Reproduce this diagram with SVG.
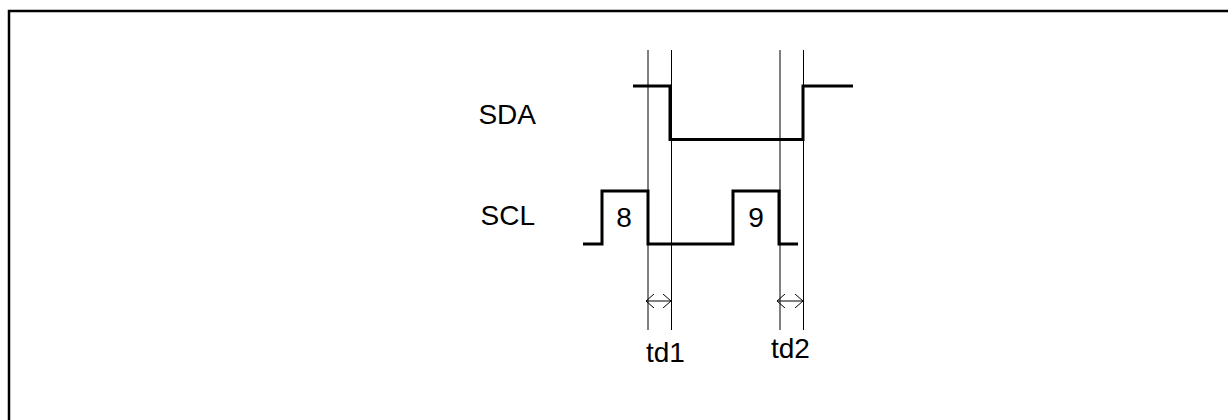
<svg xmlns="http://www.w3.org/2000/svg" width="1228" height="420" viewBox="0 0 1228 420">
<style>
.frame{fill:none;stroke:#000;stroke-width:2.5}
.sig{fill:none;stroke:#000;stroke-width:3;stroke-linejoin:miter}
.guide{fill:none;stroke:#000;stroke-width:1}
.arr{fill:none;stroke:#000;stroke-width:1}
text{font-family:"Liberation Sans",Arial,sans-serif;font-size:28px;fill:#000}
.r{text-anchor:end}
.m{text-anchor:middle}
</style>
<defs>
<marker id="oa" viewBox="0 0 10 14" refX="9" refY="7" markerWidth="10" markerHeight="14" markerUnits="userSpaceOnUse" orient="auto-start-reverse">
<path d="M1,0 L9,7 L1,14" fill="none" stroke="#000" stroke-width="1"/>
</marker>
</defs>
<rect width="1228" height="420" fill="#fff"/>
<path class="frame" d="M9,420 L9,11 L1228,11"/>
<g id="guides">
<line class="guide" x1="648" y1="50" x2="648" y2="330"/>
<line class="guide" x1="671.5" y1="50" x2="671.5" y2="330"/>
<line class="guide" x1="780" y1="50" x2="780" y2="330"/>
<line class="guide" x1="803.5" y1="50" x2="803.5" y2="330"/>
</g>
<g id="sda">
<path class="sig" d="M633,86 L670,86 L670,139.5 L803,139.5 L803,86 L853,86"/>
<text class="r" x="536" y="124">SDA</text>
</g>
<g id="scl">
<path class="sig" d="M583,244 L602,244 L602,191 L648,191 L648,244 L733,244 L733,191 L779,191 L779,244 L798,244"/>
<text class="r" x="535" y="225">SCL</text>
<text class="m" x="624" y="227">8</text>
<text class="m" x="756" y="227">9</text>
</g>
<g id="connectors">
<line class="arr" x1="646" y1="301" x2="671" y2="301" marker-start="url(#oa)" marker-end="url(#oa)"/>
<line class="arr" x1="777" y1="301" x2="803" y2="301" marker-start="url(#oa)" marker-end="url(#oa)"/>
</g>
<g id="labels">
<text x="646" y="362">td1</text>
<text x="771" y="358">td2</text>
</g>
</svg>
